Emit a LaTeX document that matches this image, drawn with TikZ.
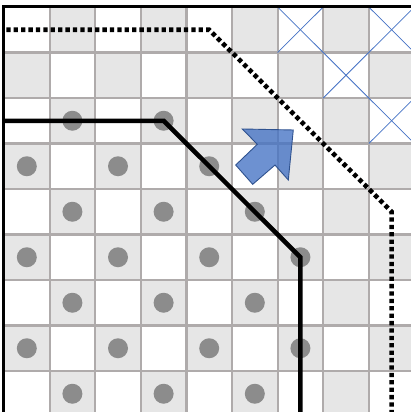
\documentclass[tikz,border=0pt]{standalone}
\usetikzlibrary{positioning}

\definecolor{cellgray}{RGB}{230,230,230}
\definecolor{gridgray}{RGB}{175,171,171}
\definecolor{dotgray}{RGB}{140,140,140}
\definecolor{arrowblue}{RGB}{68,114,196}
\definecolor{arrowedge}{RGB}{47,82,143}

\tikzset{
  gridline/.style={gridgray, line width=2.2pt},
  crossline/.style={arrowblue, line width=0.8pt},
  inner/.style={black, line width=4.5pt},
  outer/.style={black, line width=4.6pt, dash pattern=on 4.3pt off 3.1pt},
  frame/.style={black, line width=3pt},
}

\begin{document}
\begin{tikzpicture}[x=45.6pt, y=-45.5pt]

\useasboundingbox (-4pt,7pt) rectangle (407pt,-405pt);
\clip (-4pt,7pt) rectangle (407pt,-405pt);

% checkerboard
\foreach \i in {0,...,8}
  \foreach \j in {0,...,8}{
    \pgfmathparse{int(mod(\i+\j,2))}
    \ifnum\pgfmathresult=1
      \fill[cellgray] (\i,\j) rectangle ++(1,1);
    \fi
  }

% grid
\foreach \k in {1,...,9}{
  \draw[gridline] (\k,0) -- (\k,9.2);
  \draw[gridline] (0,\k) -- (9.2,\k);
}

% crossed cells
\foreach \i/\j in {6/0, 8/0, 7/1, 8/2}{
  \draw[crossline] (\i,\j) -- ++(1,1);
  \draw[crossline] (\i+1,\j) -- ++(-1,1);
}

% dots
\foreach \j in {2,...,8}
  \foreach \i in {0,...,6}{
    \pgfmathparse{int(mod(\i+\j,2))}
    \ifnum\pgfmathresult=1
      \ifnum\i<\numexpr\j+2\relax
        \fill[dotgray] (\i+0.5,\j+0.5) circle (10pt);
      \fi
    \fi
  }

% solid boundary
\draw[inner] (0,2.5) -- (3.5,2.5) -- (6.5,5.5) -- (6.5,9.2);

% dotted boundary
\draw[outer] (0.05,0.5) -- (4.5,0.5) -- (8.5,4.5) -- (8.5,9.2);

% arrow
\draw[fill=arrowblue, fill opacity=0.78, draw=arrowedge, line width=0.9pt, line join=miter]
  (5.226,2.681) -- (6.344,2.703) -- (6.235,3.802) -- (5.943,3.473)
  -- (5.454,3.897) -- (5.081,3.473) -- (5.555,3.018) -- cycle;

% frame
\draw[frame] (0,9.2) -- (0,0) -- (9.2,0);

\end{tikzpicture}
\end{document}
